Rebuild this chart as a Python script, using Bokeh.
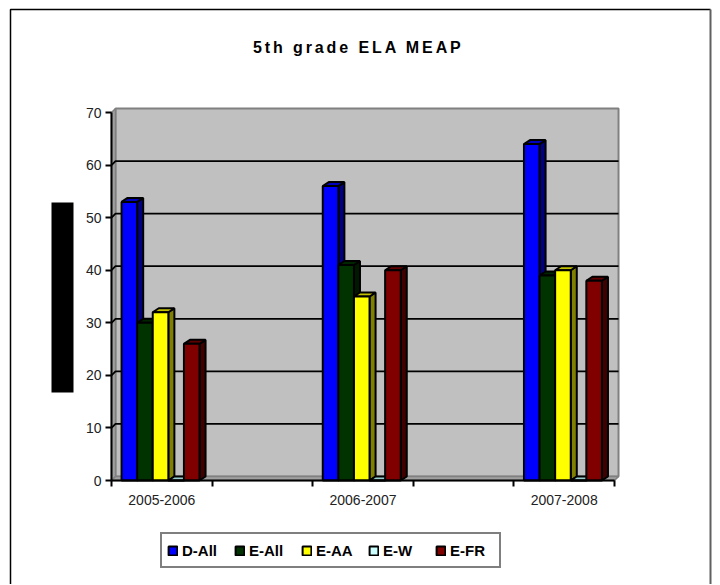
from bokeh.document import Document
from bokeh.embed import file_html
from bokeh.resources import INLINE
from bokeh.plotting import figure
from bokeh.models import FixedTicker, Legend, LegendItem, Range1d, Label, CustomJS

categories = ["2005-2006", "2006-2007", "2007-2008"]
series_names = ["D-All", "E-All", "E-AA", "E-W", "E-FR"]
d_all = [53, 56, 64]
e_all = [30, 41, 39]
e_aa = [32, 35, 40]
e_w = [0, 0, 0]
e_fr = [26, 40, 38]
y_ticks = [0, 10, 20, 30, 40, 50, 60, 70]
chart_title = "5th grade ELA MEAP"

front = ["#0000FF", "#003300", "#FFFF00", "#CCFFFF", "#800000"]
side = ["#000080", "#001900", "#808000", "#668080", "#400000"]
top = ["#0000C0", "#002600", "#C0C000", "#99CCCC", "#600000"]

BAR_W = 0.155
DX = 0.06      # depth of the bars, x units
DY = 0.76      # depth of the bars, y units
WX = 0.04      # depth of the wall
WY = 0.76

W, H = 716, 584
X0, Y0 = 111, 480     # pixel of the axis origin
PX, PY = 100.6, 5.257 # pixels per x and y unit

positions = [0.5 + 2 * i for i in range(len(categories))]
GROUP_SHIFT = -0.0125

p = figure(width=W, height=H, output_backend="svg", toolbar_location=None,
           x_range=Range1d(-X0 / PX, (W - X0) / PX), y_range=Range1d(-(H - Y0) / PY, Y0 / PY),
           min_border=0,
           background_fill_color="white", border_fill_color="white", outline_line_color=None)
p.xgrid.visible = False
p.ygrid.visible = False


def sx(px):
    return (px - X0) / PX


def sy(py):
    return (Y0 - py) / PY


# chart box (open at the bottom) and the blacked-out axis title
p.line([sx(10), sx(10), sx(710)], [sy(H + 5), sy(9), sy(9)], line_color="black", line_width=1.5)
p.line([sx(710), sx(710)], [sy(9), sy(H + 5)], line_color="#606060", line_width=2)
p.quad(left=[sx(51)], right=[sx(73)], top=[sy(202)], bottom=[sy(392)], fill_color="black", line_color=None)

# 3D walls and floor
p.patch([WX, 5 + WX, 5 + WX, WX], [WY, WY, 70 + WY, 70 + WY], fill_color="#C0C0C0", line_color="#808080", line_width=2)
p.patch([0, WX, WX, 0], [0, WY, 70 + WY, 70], fill_color="#A0A0A0", line_color="#808080", line_width=1.5)
p.patch([0, 5, 5 + WX, WX], [0, 0, WY, WY], fill_color="#A0A0A0", line_color="#808080", line_width=1.5)

grid = [v for v in y_ticks if 0 < v < 70]
p.multi_line([[0, WX, 5 + WX] for _ in grid], [[v, v + WY, v + WY] for v in grid], line_color="black", line_width=1.8)

# bars
items = []
for s, (name, vals) in enumerate(zip(series_names, [d_all, e_all, e_aa, e_w, e_fr])):
    lefts = [c + GROUP_SHIFT + (s - 2.5) * BAR_W for c in positions]
    rights = [l + BAR_W for l in lefts]
    xs_side = [[r, r + DX, r + DX, r] for r in rights]
    ys_side = [[0, DY, v + DY, v] for v in vals]
    xs_top = [[l, r, r + DX, l + DX] for l, r in zip(lefts, rights)]
    ys_top = [[v, v, v + DY, v + DY] for v in vals]
    p.patches(xs_side, ys_side, fill_color=side[s], line_color="black", line_width=2)
    p.patches(xs_top, ys_top, fill_color=top[s], line_color="black", line_width=2)
    r = p.vbar(x=[(a + b) / 2 for a, b in zip(lefts, rights)], width=BAR_W, bottom=0, top=vals,
               fill_color=front[s], line_color="black", line_width=2)
    items.append(LegendItem(label=name, renderers=[r]))

# axes
yax = p.yaxis[0]
yax.fixed_location = 0
yax.ticker = FixedTicker(ticks=y_ticks)
yax.bounds = (0, 70)
yax.axis_line_color = "black"
yax.axis_line_width = 2
yax.major_tick_line_color = "black"
yax.major_tick_line_width = 2
yax.major_tick_in = 0
yax.major_tick_out = 6
yax.minor_tick_line_color = None
yax.major_label_text_font = "Liberation Sans"
yax.major_label_text_font_size = "14px"
yax.major_label_text_color = "#222222"
yax.major_label_standoff = 4

xax = p.xaxis[0]
xax.fixed_location = 0
xax.ticker = FixedTicker(ticks=positions, minor_ticks=[0, 1, 2, 3, 4, 5])
xax.major_label_overrides = {pos: c for pos, c in zip(positions, categories)}
xax.bounds = (0, 5)
xax.axis_line_color = "black"
xax.axis_line_width = 2
xax.major_tick_line_color = None
xax.major_tick_in = 0
xax.major_tick_out = 0
xax.minor_tick_line_color = "black"
xax.minor_tick_line_width = 2
xax.minor_tick_in = 0
xax.minor_tick_out = 6
xax.major_label_text_font = "Liberation Sans"
xax.major_label_text_font_size = "14px"
xax.major_label_text_color = "#222222"
xax.major_label_standoff = 8

# title (its start is shifted because the spacing added below only grows to the right)
title = Label(x=332, y=H - 47, x_units="screen", y_units="screen", text=chart_title,
              text_font="Liberation Sans", text_font_size="16px", text_font_style="bold",
              text_color="black", text_align="center", text_baseline="middle")
p.add_layout(title)

# legend
leg = Legend(items=items, orientation="horizontal", location=(160, H - 568),
             border_line_color="black", border_line_width=2.5, background_fill_color="white", background_fill_alpha=1,
             label_text_font="Liberation Sans", label_text_font_size="15px", label_text_font_style="bold",
             label_text_color="black", glyph_width=11, glyph_height=11, label_standoff=4, label_width=44,
             label_height=22, spacing=8, padding=5, margin=0)
p.add_layout(leg, "center")

# the reference's title is letter-spaced
doc = Document()
doc.add_root(p)
doc.js_on_event("document_ready", CustomJS(args=dict(title=chart_title), code="""
function walk(root) {
  for (const el of root.querySelectorAll('*')) {
    if (el.shadowRoot) walk(el.shadowRoot);
    if (el.tagName.toLowerCase() === 'text' && el.textContent.trim() === title) {
      el.style.letterSpacing = '2.9px';
    }
  }
}
for (const t of [0, 50, 150, 300, 600, 1000, 2000]) setTimeout(() => walk(document), t);
"""))

open("out.html", "w").write(file_html(doc, INLINE))
